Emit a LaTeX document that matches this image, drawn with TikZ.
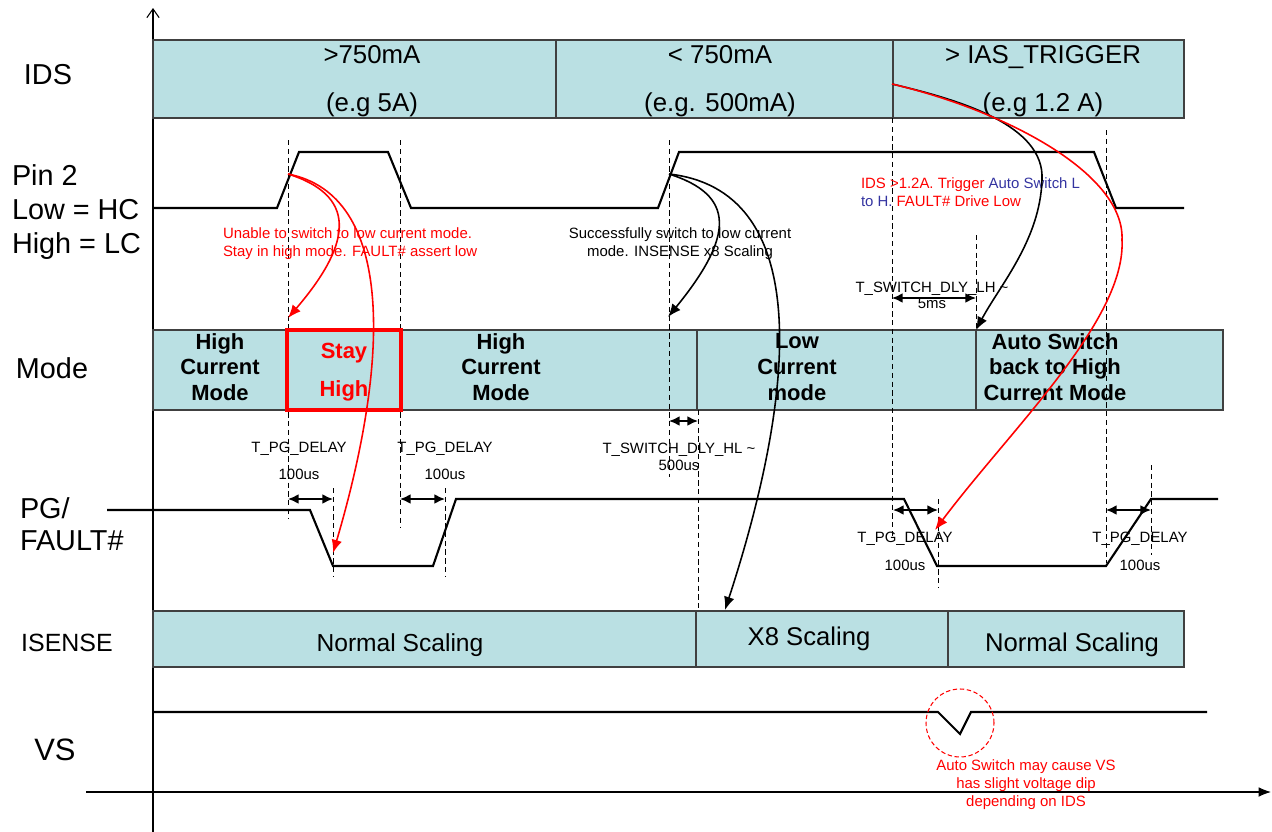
\documentclass[tikz,border=0pt]{standalone}
\usepackage{fontspec}
\setmainfont{Liberation Sans}
\usepackage{xcolor}
\usetikzlibrary{arrows.meta,positioning,fit,calc}

\definecolor{cellfill}{HTML}{BAE0E3}
\definecolor{autoblue}{HTML}{3333A0}

\begin{document}
\begin{tikzpicture}[
  x=0.02cm, y=-0.02cm,
  >=Stealth,
  every node/.style={inner sep=0pt, outer sep=0pt},
  cell/.style={rectangle, draw=black!75, fill=cellfill, line width=0.7pt, inner sep=0pt},
  staybox/.style={rectangle, draw=red, line width=2.3pt, inner sep=0pt},
  rowlabel/.style={font=\fontsize{16.4}{19.6}\selectfont, align=left, anchor=west},
  idstext/.style={font=\fontsize{14.7}{27.2}\selectfont, align=center},
  modetext/.style={font=\fontsize{12.5}{14.7}\selectfont\bfseries, align=center},
  scaletext/.style={font=\fontsize{14.6}{17}\selectfont},
  note/.style={font=\fontsize{8.5}{10.2}\selectfont, align=center},
  signal/.style={line width=1.2pt},
  guide/.style={line width=0.5pt, dash pattern=on 3pt off 2pt},
  dim/.style={{Latex[length=6pt,width=5.5pt]}-{Latex[length=6pt,width=5.5pt]}, line width=0.9pt},
  cause/.style={-{Latex[length=7.5pt,width=6pt]}, line width=0.9pt},
  dipring/.style={circle, draw=red, dash pattern=on 2.5pt off 1.5pt, minimum size=1.36cm, line width=0.6pt},
]
\useasboundingbox (0,0) rectangle (1272,832);

% ========= Axes =========
\coordinate (origin) at (153,832);
\coordinate (ytop) at (153,8);
\coordinate (xleft) at (86,792);
\coordinate (xright) at (1271,792);
\draw[line width=0.6pt, -{Straight Barb[length=5pt,width=7pt]}] (origin) -- (ytop);
\draw[line width=0.6pt, -{Latex[length=7pt,width=5.5pt]}] (xleft) -- (xright);

% ========= Row labels =========
\node[rowlabel, anchor=center] at (48,75) (lblIds) {IDS};
\node[rowlabel] at (12,212) (lblPin) {Pin 2\\Low = HC\\High = LC};
\node[rowlabel, anchor=center] at (52,368) (lblMode) {Mode};
\node[rowlabel, font=\fontsize{16.4}{18}\selectfont] at (20,524) (lblPg) {PG/\\FAULT\#};
\node[font=\fontsize{14.2}{17}\selectfont] at (67,643) (lblIsense) {ISENSE};
\node[font=\fontsize{17.6}{20}\selectfont] at (55,750) (lblVs) {VS};

% ========= IDS row =========
\node[cell, fit={(153,40) (556,118)}] (idsA) {};
\node[cell, fit={(556,40) (893,118)}] (idsB) {};
\node[cell, fit={(893,40) (1184,118)}] (idsC) {};
\node[idstext] at (372,81) (idsAtxt) {>750mA\\(e.g 5A)};
\node[idstext] at (720,81) (idsBtxt) {< 750mA\\(e.g. 500mA)};
\node[idstext] at (1043,81) (idsCtxt) {> IAS\_TRIGGER\\(e.g 1.2 A)};

% ========= Mode row =========
\node[cell, fit={(153,330) (697,410)}] (modeA) {};
\node[cell, fit={(697,330) (976,410)}] (modeB) {};
\node[cell, fit={(976,330) (1223,410)}] (modeC) {};

% ========= ISENSE row =========
\node[cell, fit={(153,611) (696,667)}] (isA) {};
\node[cell, fit={(696,611) (948,667)}] (isB) {};
\node[cell, fit={(948,611) (1184,667)}] (isC) {};
\node[scaletext, font=\fontsize{14}{17}\selectfont] at (400,645) (isAtxt) {Normal Scaling};
\node[scaletext] at (809,639) (isBtxt) {X8 Scaling};
\node[scaletext] at (1072,645) (isCtxt) {Normal Scaling};

% ========= Timing guides =========
\draw[guide] (288,140) -- (288,518);
\draw[guide] (400,140) -- (400,528);
\draw[guide] (333,488) -- (333,577);
\draw[guide] (445,488) -- (445,577);
\draw[guide] (669,140) -- (669,477);
\draw[guide] (698,410) -- (698,608);
\draw[guide] (892,118) -- (892,537);
\draw[guide] (976,235) -- (976,330);
\draw[guide] (938,499) -- (938,588);
\draw[guide] (1106,130) -- (1106,563);
\draw[guide] (1151,465) -- (1151,555);

% ========= Signals =========
\draw[signal] (153,208) -- (277,208) -- (299,152) -- (388,152) -- (411,208)
  -- (658,208) -- (679,152) -- (1094,152) -- (1116,208) -- (1184,208);
\draw[signal] (107,510) -- (310,510) -- (333,566) -- (433,566) -- (456,499)
  -- (904,499) -- (937,566) -- (1106,566) -- (1151,499) -- (1218,499);
\draw[signal] (153,712) -- (938,712) -- (960,734) -- (971,712) -- (1207,712);

% ========= Mode texts =========
\node[modetext] at (220,367) (modeHi1) {High\\Current\\Mode};
\node[modetext] at (501,367) (modeHi2) {High\\Current\\Mode};
\node[modetext] at (797,367) (modeLo) {Low\\Current\\mode};
\node[modetext] at (1055,367) (modeAuto) {Auto Switch\\back to High\\Current Mode};
\node[staybox, fit={(287,330) (401,410)}] (stay) {};
\node[modetext, text=red, font=\fontsize{12.5}{22}\selectfont\bfseries] at (344,372) (stayTxt) {Stay\\High};

% ========= Delay labels =========
\coordinate (pgA1) at (288,499);  \coordinate (pgA2) at (333,499);
\coordinate (pgB1) at (400,499);  \coordinate (pgB2) at (445,499);
\coordinate (swH1) at (669,421);  \coordinate (swH2) at (698,421);
\coordinate (swL1) at (892,298);  \coordinate (swL2) at (976,298);
\coordinate (pgC1) at (893,510);  \coordinate (pgC2) at (938,510);
\coordinate (pgD1) at (1106,510); \coordinate (pgD2) at (1151,510);
\draw[dim] (pgA1) -- (pgA2);
\draw[dim] (pgB1) -- (pgB2);
\draw[dim] (swH1) -- (swH2);
\draw[dim] (swL1) -- (swL2);
\draw[dim] (pgC1) -- (pgC2);
\draw[dim] (pgD1) -- (pgD2);
\node[note, font=\fontsize{8.5}{15.3}\selectfont] at (299,461) (pgAtxt) {T\_PG\_DELAY\\100us};
\node[note, font=\fontsize{8.5}{15.3}\selectfont] at (445,461) (pgBtxt) {T\_PG\_DELAY\\100us};
\node[note, font=\fontsize{8.5}{9.6}\selectfont] at (679,457) (swHtxt) {T\_SWITCH\_DLY\_HL \textasciitilde\\500us};
\node[note, font=\fontsize{8.5}{9.2}\selectfont] at (932,295) (swLtxt) {T\_SWITCH\_DLY\_LH \textasciitilde\\5ms};
\node[note, font=\fontsize{8.5}{15.8}\selectfont] at (905,551) (pgCtxt) {T\_PG\_DELAY\\100us};
\node[note, font=\fontsize{8.5}{15.8}\selectfont] at (1140,551) (pgDtxt) {T\_PG\_DELAY\\100us};

% ========= Notes =========
\node[note, align=left, anchor=west, text=red] at (223,244) (failNote)
  {Unable to switch to low current mode.\\Stay in high mode. FAULT\# assert low};
\node[note] at (680,244) (okNote)
  {Successfully switch to low current\\mode. INSENSE x8 Scaling};
\node[note, align=left, anchor=west] at (861,192) (trigNote)
  {\textcolor{red}{IDS >1.2A. Trigger }\textcolor{autoblue}{Auto Switch L}\\
   \textcolor{autoblue}{to H.} \textcolor{red}{FAULT\# Drive Low}};
\node[dipring] at (960,723) (dip) {};
\node[note, text=red] at (1026,785) (dipNote)
  {Auto Switch may cause VS\\has slight voltage dip\\depending on IDS};

% ========= Cause arrows =========
\coordinate (failStart) at (288,174);
\coordinate (stayTip) at (288,318);
\coordinate (pgLowTip) at (333,553);
\coordinate (okStart) at (669,174);
\coordinate (lowTip) at (668,317);
\coordinate (x8Tip) at (725,610);
\coordinate (trigStart) at (892,84);
\coordinate (autoTip) at (976,330);
\coordinate (faultTip) at (935,530);
\draw[cause, red] (failStart) .. controls (355,195) and (355,240) .. (stayTip);
\draw[cause, red] (failStart) .. controls (395,195) and (390,360) .. (pgLowTip);
\draw[cause] (okStart) .. controls (735,195) and (735,235) .. (lowTip);
\draw[cause] (okStart) .. controls (810,190) and (800,380) .. (x8Tip);
\draw[cause] (trigStart) .. controls (960,100) and (1045,125) .. (1042,180)
  .. controls (1040,240) and (1000,285) .. (autoTip);
\draw[cause, red] (trigStart) .. controls (1010,112) and (1125,175) .. (1122,240)
  .. controls (1126,320) and (1010,430) .. (faultTip);

\end{tikzpicture}
\end{document}
